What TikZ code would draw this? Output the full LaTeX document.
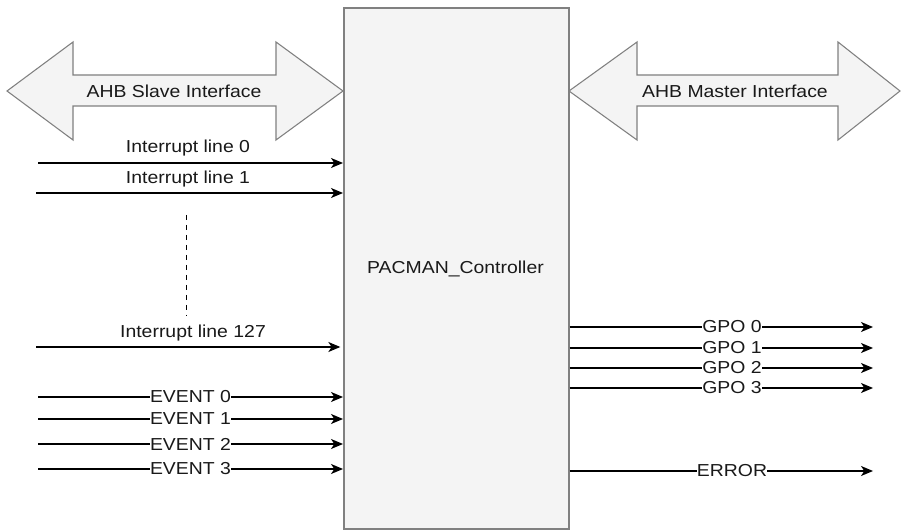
\documentclass[tikz,border=0pt]{standalone}
\usepackage{fontspec}
\setmainfont{Liberation Sans}[FakeStretch=1.12]
\usetikzlibrary{arrows.meta}
\definecolor{boxfill}{HTML}{F4F4F4}
\definecolor{boxline}{HTML}{808080}
\begin{document}
\begin{tikzpicture}[x=0.75pt,y=-0.75pt,
  sig/.style={draw=black, line width=0.9pt, -{Stealth[length=9pt,width=7.5pt,inset=2.5pt]}},
  lbl/.style={font=\fontsize{13}{15}\selectfont, inner sep=0.5pt, text=black!90},
  onl/.style={lbl, fill=white, inner xsep=0pt},
  bus/.style={draw=boxline, fill=boxfill, line width=0.8pt, line join=miter},
  ctrlbox/.style={draw=boxline, fill=boxfill, line width=1.3pt, minimum width=168.75pt, minimum height=390.75pt, anchor=north west}]
\fill[white] (0,0) rectangle (903,530);

% controller
\node[ctrlbox] (ctrl) at (343,7) {};
\node[lbl] (ctrlname) at (455.5,269) {PACMAN\_Controller};

% AHB interfaces
\draw[bus] (7,91) -- (73,42) -- (73,75) -- (276,75) -- (276,42) -- (343,91) -- (276,140) -- (276,106) -- (73,106) -- (73,140) -- cycle;
\node[lbl] (slave) at (174,91) {AHB Slave Interface};
\draw[bus] (569,91) -- (637,42) -- (637,75) -- (838,75) -- (838,42) -- (900,91) -- (838,140) -- (838,106) -- (637,106) -- (637,140) -- cycle;
\node[lbl] (master) at (735,91) {AHB Master Interface};

% interrupt lines
\coordinate (i0) at (38,163);
\coordinate (i1) at (36,193);
\coordinate (i127) at (36,347);
\draw[sig] (i0) -- (i0 -| ctrl.west);
\node[lbl] (li0) at (188,148) {Interrupt line 0};
\draw[sig] (i1) -- (i1 -| ctrl.west);
\node[lbl] (li1) at (188,179) {Interrupt line 1};
\draw[sig] (i127) -- ([xshift=-2pt]i127 -| ctrl.west);
\node[lbl] (li127) at (193,333) {Interrupt line 127};
\coordinate (d1) at (186,215);
\coordinate (d2) at (186,316);
\draw[black, line width=0.75pt, dash pattern=on 3.5pt off 4pt] (d1) -- (d2);

% events
\foreach \y/\n in {397/0,419/1,444/2,469/3}{
  \coordinate (e\n) at (38,\y);
  \draw[sig] (e\n) -- (e\n -| ctrl.west) node[onl, pos=0.5] {EVENT \n};
}

% outputs
\foreach \y/\n in {327/0,348/1,368/2,388/3}{
  \coordinate (g\n) at (873,\y);
  \draw[sig] (g\n -| ctrl.east) -- (g\n) node[onl, pos=0.535] {GPO \n};
}
\coordinate (err) at (873,471);
\draw[sig] (err -| ctrl.east) -- (err) node[onl, pos=0.535] {ERROR};
\end{tikzpicture}
\end{document}
